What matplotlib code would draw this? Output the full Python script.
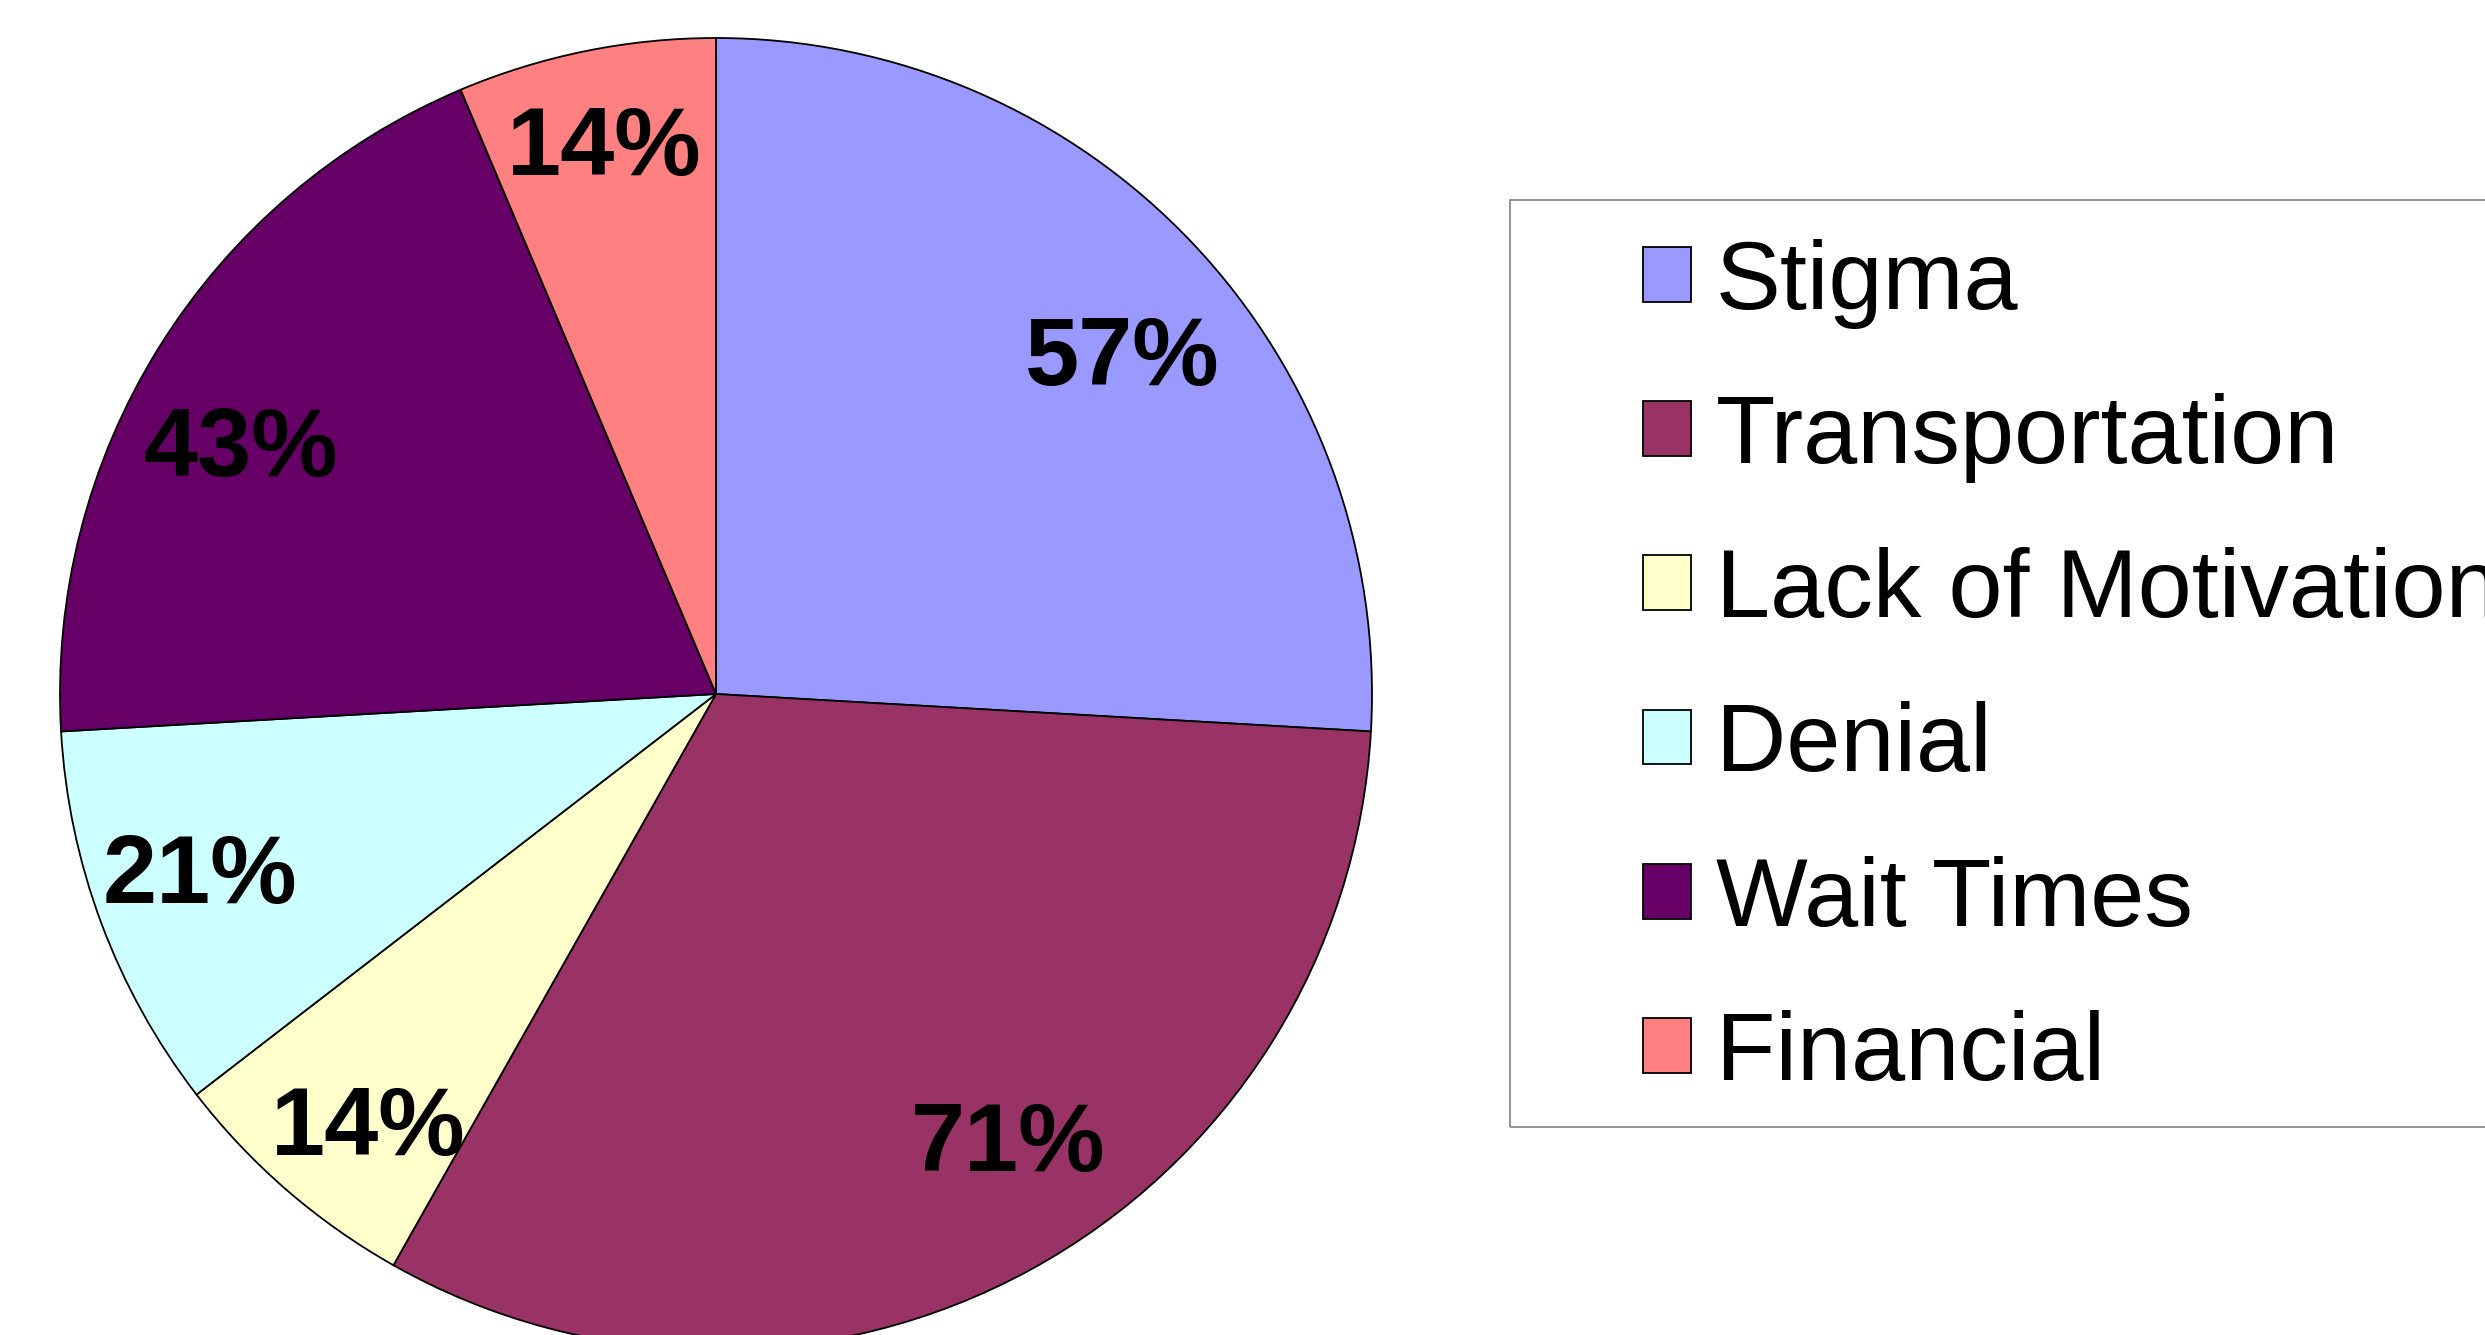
import numpy as np
import matplotlib.pyplot as plt
from matplotlib.patches import Rectangle

plt.rcParams['font.family'] = ['Liberation Sans', 'DejaVu Sans']

# data
categories = ["Stigma", "Transportation", "Lack of Motivation", "Denial", "Wait Times", "Financial"]
values = [57, 71, 14, 21, 43, 14]
pct_labels = ["57%", "71%", "14%", "21%", "43%", "14%"]
colors = ["#9999FF", "#993366", "#FFFFCC", "#CCFFFF", "#660066", "#FF8080"]

# label placement tweaks (radius fraction, angle nudge in degrees)
label_dist = [0.81, 0.81, 0.84, 0.83, 0.82, 0.86]
label_nudge = [-3.2, 4.7, 1.8, -1.7, 4.0, 0.0]

W, H = 2485, 1335
fig = plt.figure(figsize=(W / 100, H / 100), dpi=100)

# pie axes: centre (716, 694) px, radius 656 px
cx, cy, r = 716, 694, 656
ax = fig.add_axes([(cx - r) / W, (H - cy - r) / H, 2 * r / W, 2 * r / H])
wedges, _ = ax.pie(values, colors=colors, startangle=90, counterclock=False,
                   radius=1, wedgeprops=dict(edgecolor="black", linewidth=1.3))
ax.set_xlim(-1, 1)
ax.set_ylim(-1, 1)
ax.set_aspect("equal")
ax.axis("off")

for w, lab, d, nd in zip(wedges, pct_labels, label_dist, label_nudge):
    ang = np.deg2rad((w.theta1 + w.theta2) / 2 + nd)
    ax.text(d * np.cos(ang), d * np.sin(ang) - 0.013, lab, ha="center", va="center",
            fontsize=70, fontweight="bold", color="black")

# legend box (runs off the right edge)
fig.patches.append(Rectangle((1510 / W, 1 - 1127 / H), 1000 / W, (1127 - 200) / H,
                             transform=fig.transFigure, fill=False,
                             edgecolor="#808080", linewidth=1.2))

leg = fig.legend(wedges, categories, loc="upper left",
                 bbox_to_anchor=(1643 / W, 1 - 239 / H), bbox_transform=fig.transFigure,
                 frameon=False, fontsize=70, handlelength=0.49, handleheight=0.49,
                 handletextpad=0.26, labelspacing=0.66, borderpad=0, borderaxespad=0)

fig.savefig("out.png", dpi=100)
